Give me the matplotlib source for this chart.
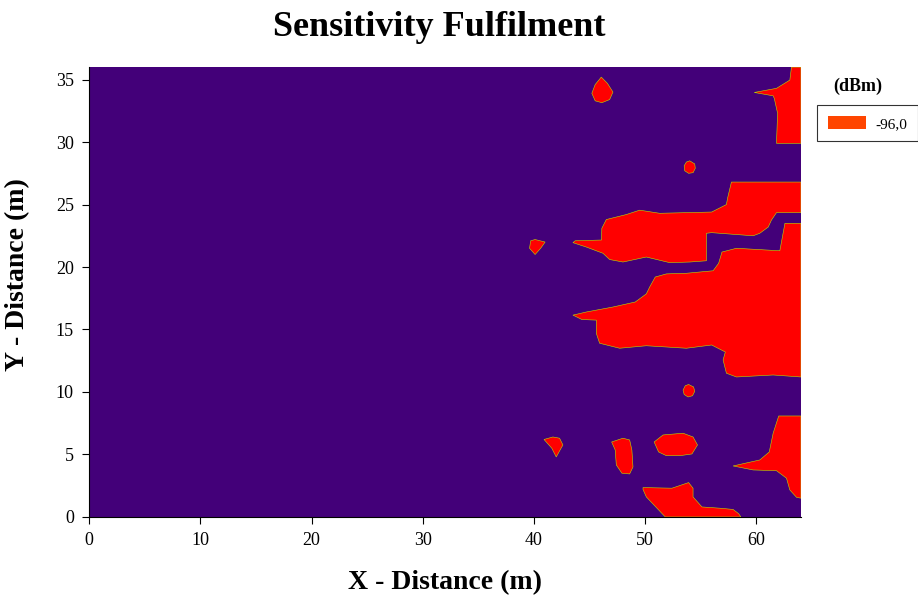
import numpy as np
import matplotlib
matplotlib.use("Agg")
import matplotlib.pyplot as plt
from matplotlib.patches import Patch

plt.rcParams['font.family'] = ['Liberation Serif', 'DejaVu Serif']

# Regions where the -96,0 dBm sensitivity is fulfilled (x, y in metres)
blob_top = [(46.05, 35.2), (46.6, 34.7), (47.1, 34.0), (46.8, 33.4), (46.1, 33.15),
            (45.5, 33.3), (45.2, 33.9), (45.5, 34.6)]
dot_28 = [(54.0, 28.5), (54.45, 28.25), (54.5, 27.9), (54.3, 27.55), (53.9, 27.5),
          (53.55, 27.7), (53.5, 28.1), (53.7, 28.4)]
corner_top = [(63.15, 36), (64, 36), (64, 29.9), (61.8, 29.9), (61.9, 32.3), (61.6, 33.5),
              (61.5, 33.7), (59.8, 33.97), (61.8, 34.3), (63.0, 34.96)]
band_upper = [(64, 26.8), (57.75, 26.8), (57.4, 25.5), (57.3, 25.0), (55.97, 24.4),
              (51.3, 24.3), (49.5, 24.55), (48.3, 24.2), (46.5, 23.8), (46.1, 23.1),
              (46.07, 22.16), (43.7, 22.1), (43.5, 21.95), (44.7, 21.6), (46.2, 21.1),
              (46.8, 20.6), (48.0, 20.4), (50.1, 20.8), (52.2, 20.35), (54.0, 20.4),
              (55.5, 20.5), (55.5, 22.7), (55.97, 22.75), (59.7, 22.5), (60.3, 22.7),
              (61.06, 23.2), (61.35, 23.76), (61.8, 24.35), (64, 24.35)]
band_lower = [(64, 23.5), (62.56, 23.5), (62.1, 21.3), (58.2, 21.5), (56.9, 21.2),
              (56.6, 20.3), (56.1, 19.7), (53.7, 19.5), (51.9, 19.45), (50.9, 19.2),
              (50.4, 18.4), (50.1, 17.85), (49.1, 17.2), (47.1, 16.8), (44.7, 16.4),
              (43.5, 16.15), (44.3, 15.8), (45.6, 15.75), (45.6, 14.7), (45.9, 13.9),
              (47.7, 13.5), (50.1, 13.7), (53.7, 13.5), (55.97, 13.76), (57.2, 13.2),
              (57.0, 12.56), (57.3, 11.5), (58.2, 11.2), (61.5, 11.36), (64, 11.2)]
blob_40 = [(39.7, 22.1), (40.1, 22.2), (41.0, 22.0), (40.6, 21.5), (40.1, 21.0), (39.6, 21.5)]
dot_10 = [(53.9, 10.6), (54.35, 10.4), (54.45, 10.05), (54.25, 9.7), (53.85, 9.6),
          (53.5, 9.8), (53.4, 10.15), (53.6, 10.5)]
blob_42 = [(40.9, 6.2), (41.7, 6.4), (42.3, 6.3), (42.6, 5.76), (42.0, 4.8), (41.6, 5.5)]
blob_48 = [(46.98, 6.0), (48.0, 6.3), (48.6, 6.16), (48.8, 5.36), (48.9, 4.0), (48.6, 3.44),
           (47.9, 3.5), (47.4, 4.16), (47.3, 5.36)]
blob_52 = [(50.8, 6.0), (51.6, 6.56), (53.4, 6.7), (54.3, 6.4), (54.7, 5.76), (54.2, 5.04),
           (53.1, 4.9), (51.9, 4.9), (51.2, 5.2)]
corner_bottom = [(62.0, 8.08), (64, 8.08), (64, 1.5), (63.6, 1.57), (63.0, 2.16), (62.7, 3.1),
                 (61.8, 3.7), (59.7, 3.76), (57.9, 4.08), (60.3, 4.56), (61.15, 5.2),
                 (61.5, 6.7)]
blob_bottom = [(49.8, 2.35), (52.4, 2.3), (53.9, 2.75), (54.3, 2.3), (54.3, 1.6), (55.1, 0.8),
               (56.7, 0.7), (57.9, 0.6), (58.4, 0.26), (58.6, 0), (51.8, 0), (50.1, 1.6),
               (49.8, 2.2)]

regions = [blob_top, dot_28, corner_top, band_upper, band_lower, blob_40, dot_10,
           blob_42, blob_48, blob_52, corner_bottom, blob_bottom]

x_max, y_max = 64, 36
level_label = '-96,0'

fig = plt.figure(figsize=(9.18, 5.99), dpi=100)
ax = fig.add_axes([0.097, 0.137, 0.7755, 0.751])
ax.set_facecolor('#430079')

for reg in regions:
    xs, ys = zip(*reg)
    ax.fill(xs, ys, facecolor='#ff0000', edgecolor='#b8e000', linewidth=0.4)

ax.set_xlim(0, x_max)
ax.set_ylim(0, y_max)
ax.set_xticks(np.arange(0, 61, 10))
ax.set_yticks(np.arange(0, 36, 5))
ax.tick_params(labelsize=13, length=5, width=0.8, pad=6)
for s in ['top', 'right']:
    ax.spines[s].set_visible(False)

fig.text(0.478, 1 - 27 / 599, 'Sensitivity Fulfilment', fontsize=26, fontweight='bold',
         ha='center', va='center')
fig.text(0.485, 1 - 583 / 599, 'X - Distance (m)', fontsize=20, fontweight='bold',
         ha='center', va='center')
fig.text(18 / 918, 1 - 275 / 599, 'Y - Distance (m)', fontsize=20, fontweight='bold',
         ha='center', va='center', rotation=90)

fig.text(858 / 918, 1 - 86 / 599, '(dBm)', fontsize=13, fontweight='bold',
         ha='center', va='center')
leg = fig.legend(handles=[Patch(facecolor='#ff4500', edgecolor='none', label=level_label)],
                 loc='upper left', bbox_to_anchor=(817 / 918, 1 - 105 / 599),
                 borderaxespad=0, fontsize=11, frameon=True, fancybox=False,
                 handlelength=2.5, handleheight=1.0, borderpad=0.7, handletextpad=0.6)
leg.get_frame().set_edgecolor('black')
leg.get_frame().set_linewidth(0.8)

fig.savefig('out.png', dpi=100)
